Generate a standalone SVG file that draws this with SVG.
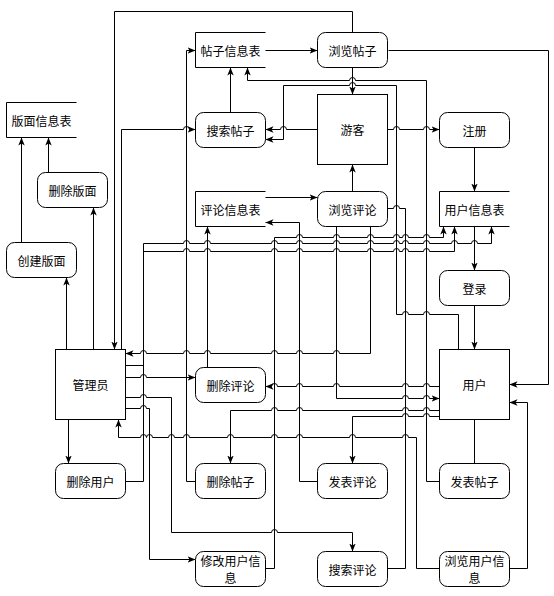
<svg xmlns="http://www.w3.org/2000/svg" width="554" height="596" viewBox="0 0 554 596">
<style>
.n{fill:#fff;stroke:#000;stroke-width:1}
.s{fill:none;stroke:#000;stroke-width:1}
.e{fill:none;stroke:#000;stroke-width:1;marker-end:url(#a)}
.p{fill:none;stroke:#000;stroke-width:1}
text{font-family:"Noto Sans CJK SC","Noto Sans",sans-serif;font-size:12px;fill:#000;text-anchor:middle;dominant-baseline:central}
</style>
<defs>
<marker id="a" viewBox="0 0 10 10" refX="10" refY="5" markerWidth="8" markerHeight="8" orient="auto" markerUnits="userSpaceOnUse">
<path d="M0,1 L10,5 L0,9 L2.5,5 z" fill="#000"/>
</marker>
</defs>
<rect width="554" height="596" fill="#fff"/>
<g transform="translate(0.5,0.5)">
<g id="connectors">
<path class="e" d="M352,32 V11 H114 V349"/>
<path class="e" d="M121,349 V129 H183 a3,3 0 0 1 6,0 H195"/>
<path class="e" d="M195,481 H186 V50 H195"/>
<path class="e" d="M230,112 V67"/>
<path class="e" d="M265,50 H317"/>
<path class="e" d="M388,50 H548 V384 H509"/>
<path class="e" d="M352,67 V94"/>
<path class="e" d="M439,481 H426 V80 H355 a3,3 0 0 0 -6,0 H247 V67"/>
<path class="e" d="M458,349 V314 H429 a3,3 0 0 0 -6,0 H408 a3,3 0 0 0 -6,0 H396 V85 H355 a3,3 0 0 0 -6,0 H283 V139 H265"/>
<path class="e" d="M317,129 H286 a3,3 0 0 0 -6,0 H265"/>
<path class="e" d="M387,129 H393 a3,3 0 0 1 6,0 H423 a3,3 0 0 1 6,0 H439"/>
<path class="e" d="M474,147 V191"/>
<path class="e" d="M474,226 V270"/>
<path class="e" d="M474,305 V349"/>
<path class="e" d="M265,197 H317"/>
<path class="e" d="M352,191 V164"/>
<path class="e" d="M317,481 H299 V222 H265"/>
<path class="p" d="M387,208 H393 a3,3 0 0 1 6,0 H405 V568 H387"/>
<path class="e" d="M336,226 V398 H402 a3,3 0 0 1 6,0 H423 a3,3 0 0 1 6,0 H439"/>
<path class="e" d="M370,226 V353 H339 a3,3 0 0 0 -6,0 H302 a3,3 0 0 0 -6,0 H277 a3,3 0 0 0 -6,0 H210 a3,3 0 0 0 -6,0 H189 a3,3 0 0 0 -6,0 H146 a3,3 0 0 0 -6,0 H125"/>
<path class="e" d="M207,367 V226"/>
<path class="e" d="M125,365 H143 V251 H183 a3,3 0 0 1 6,0 H204 a3,3 0 0 1 6,0 H271 a3,3 0 0 1 6,0 H296 a3,3 0 0 1 6,0 H333 a3,3 0 0 1 6,0 H367 a3,3 0 0 1 6,0 H393 a3,3 0 0 1 6,0 H402 a3,3 0 0 1 6,0 H423 a3,3 0 0 1 6,0 H454 V226"/>
<path class="e" d="M125,481 H143 V243 H183 a3,3 0 0 1 6,0 H204 a3,3 0 0 1 6,0 H271 a3,3 0 0 1 6,0 H296 a3,3 0 0 1 6,0 H333 a3,3 0 0 1 6,0 H367 a3,3 0 0 1 6,0 H393 a3,3 0 0 1 6,0 H402 a3,3 0 0 1 6,0 H423 a3,3 0 0 1 6,0 H451 a3,3 0 0 1 6,0 H471 a3,3 0 0 1 6,0 H491 V226"/>
<path class="e" d="M265,568 H274 V237 H296 a3,3 0 0 1 6,0 H333 a3,3 0 0 1 6,0 H367 a3,3 0 0 1 6,0 H393 a3,3 0 0 1 6,0 H402 a3,3 0 0 1 6,0 H423 a3,3 0 0 1 6,0 H443 V226"/>
<path class="e" d="M125,377 H140 a3,3 0 0 1 6,0 H195"/>
<path class="e" d="M125,397 H140 a3,3 0 0 1 6,0 H171 V532 H271 a3,3 0 0 1 6,0 H352 V551"/>
<path class="e" d="M125,408 H140 a3,3 0 0 1 6,0 H149 V559 H195"/>
<path class="e" d="M439,386 H429 a3,3 0 0 0 -6,0 H408 a3,3 0 0 0 -6,0 H339 a3,3 0 0 0 -6,0 H302 a3,3 0 0 0 -6,0 H277 a3,3 0 0 0 -6,0 H265"/>
<path class="e" d="M439,410 H429 a3,3 0 0 0 -6,0 H408 a3,3 0 0 0 -6,0 H302 a3,3 0 0 0 -6,0 H277 a3,3 0 0 0 -6,0 H230 V463"/>
<path class="e" d="M439,416 H429 a3,3 0 0 0 -6,0 H408 a3,3 0 0 0 -6,0 H352 V463"/>
<path class="e" d="M439,568 H416 V437 H408 a3,3 0 0 0 -6,0 H355 a3,3 0 0 0 -6,0 H302 a3,3 0 0 0 -6,0 H277 a3,3 0 0 0 -6,0 H233 a3,3 0 0 0 -6,0 H189 a3,3 0 0 0 -6,0 H174 a3,3 0 0 0 -6,0 H152 a3,3 0 0 0 -6,0 a3,3 0 0 0 -6,0 H118 V419"/>
<path class="e" d="M509,568 H527 V402 H509"/>
<path class="p" d="M474,419 V463"/>
<path class="e" d="M66,349 V277"/>
<path class="e" d="M93,349 V207"/>
<path class="e" d="M21,242 V137"/>
<path class="e" d="M48,172 V137"/>
<path class="e" d="M68,419 V463"/>
</g>
<g id="banmianxinxibiao"><path class="s" d="M76,102 H6 V137 H76"/><text x="41" y="120">版面信息表</text></g>
<g id="shanchubanmian"><rect class="n" x="37" y="172" width="70" height="35" rx="8"/><text x="72" y="190">删除版面</text></g>
<g id="chuangjianbanmian"><rect class="n" x="6" y="242" width="70" height="35" rx="8"/><text x="41" y="260">创建版面</text></g>
<g id="guanliyuan"><rect class="n" x="55" y="349" width="70" height="70"/><text x="90" y="384">管理员</text></g>
<g id="shanchuyonghu"><rect class="n" x="55" y="463" width="70" height="35" rx="8"/><text x="90" y="481">删除用户</text></g>
<g id="tiezixinxibiao"><path class="s" d="M265,32 H195 V67 H265"/><text x="230" y="50">帖子信息表</text></g>
<g id="sousuotiezi"><rect class="n" x="195" y="112" width="70" height="35" rx="8"/><text x="230" y="130">搜索帖子</text></g>
<g id="pinglunxinxibiao"><path class="s" d="M265,191 H195 V226 H265"/><text x="230" y="209">评论信息表</text></g>
<g id="shanchupinglun"><rect class="n" x="195" y="367" width="70" height="35" rx="8"/><text x="230" y="385">删除评论</text></g>
<g id="shanchutiezi"><rect class="n" x="195" y="463" width="70" height="35" rx="8"/><text x="230" y="481">删除帖子</text></g>
<g id="xiugaiyonghuxinxi"><rect class="n" x="195" y="551" width="70" height="35" rx="8"/><text x="230" y="560" font-size="11.5">修改用户信</text><text x="230" y="577" font-size="11.5">息</text></g>
<g id="liulantiezi"><rect class="n" x="317" y="32" width="70" height="35" rx="8"/><text x="352" y="50">浏览帖子</text></g>
<g id="youke"><rect class="n" x="317" y="94" width="70" height="70"/><text x="352" y="129">游客</text></g>
<g id="liulanpinglun"><rect class="n" x="317" y="191" width="70" height="35" rx="8"/><text x="352" y="209">浏览评论</text></g>
<g id="fabiaopinglun"><rect class="n" x="317" y="463" width="70" height="35" rx="8"/><text x="352" y="481">发表评论</text></g>
<g id="sousuopinglun"><rect class="n" x="317" y="551" width="70" height="35" rx="8"/><text x="352" y="569">搜索评论</text></g>
<g id="zhuce"><rect class="n" x="439" y="112" width="70" height="35" rx="8"/><text x="474" y="130">注册</text></g>
<g id="yonghuxinxibiao"><path class="s" d="M509,191 H439 V226 H509"/><text x="474" y="209">用户信息表</text></g>
<g id="denglu"><rect class="n" x="439" y="270" width="70" height="35" rx="8"/><text x="474" y="288">登录</text></g>
<g id="yonghu"><rect class="n" x="439" y="349" width="70" height="70"/><text x="474" y="384">用户</text></g>
<g id="fabiaotiezi"><rect class="n" x="439" y="463" width="70" height="35" rx="8"/><text x="474" y="481">发表帖子</text></g>
<g id="liulanyonghuxinxi"><rect class="n" x="439" y="551" width="70" height="35" rx="8"/><text x="474" y="560" font-size="11.5">浏览用户信</text><text x="474" y="577" font-size="11.5">息</text></g>
</g>
</svg>
